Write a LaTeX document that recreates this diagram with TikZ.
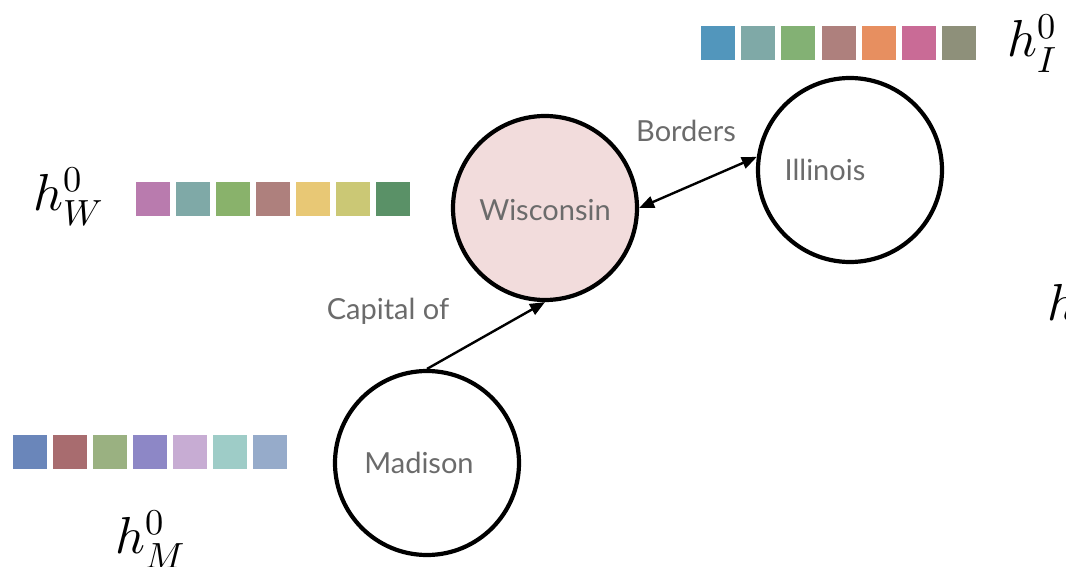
\documentclass[tikz,border=0pt]{standalone}
\usepackage{fontspec}
\usepackage{unicode-math}
\setmainfont{Lato}
\usetikzlibrary{arrows.meta}
\definecolor{labelgrey}{HTML}{6B6B6B}
\definecolor{wisfill}{HTML}{F2DCDC}
\tikzset{
  entity/.style={circle, draw=black, line width=4.2pt, minimum size=184pt, inner sep=0pt},
  caption/.style={text=labelgrey, font=\fontsize{29}{34}\selectfont, inner sep=0pt},
  relation/.style={line width=2.4pt, -{Triangle[length=15pt,width=12pt]}},
  cell/.style={minimum width=34pt, minimum height=34pt, inner sep=0pt, anchor=north west},
  vec/.style={font=\fontsize{52}{60}\selectfont, inner sep=0pt, anchor=base west},
}
\begin{document}
\begin{tikzpicture}[x=1pt, y=-1pt]
\useasboundingbox (0,0) rectangle (1066,567);
\fill[white] (0,0) rectangle (1066,567);
\begin{scope}
\clip (0,0) rectangle (1066,567);

% entity nodes
\node[entity, fill=wisfill] (w) at (545,208) {};
\node[entity] (i) at (850,170) {};
\node[entity] (m) at (427,463) {};
\node[caption] (wt) at (545,210) {Wisconsin};
\node[caption] (it) at (825,170) {Illinois};
\node[caption] (mt) at (419,463) {Madison};

% relations
\draw[relation, {Triangle[length=15pt,width=12pt]}-{Triangle[length=15pt,width=12pt]}] (w.0) -- (i.172);
\draw[relation] (m.90) -- (w.270);
\node[caption] (bl) at (686,131) {Borders};
\node[caption] (cl) at (388,311) {Capital of};

% embedding vectors
\foreach \c [count=\k from 0] in {5296BC,7FA9A7,83B174,AE807D,E78F60,C96B96,8E907A} {
  \definecolor{tmp}{HTML}{\c}
  \node[cell, fill=tmp] (iv\k) at (701+40.1*\k,26) {};
}
\foreach \c [count=\k from 0] in {B97BAE,7FA9A7,89B26B,AE807D,E8C875,CBC875,5A9167} {
  \definecolor{tmp}{HTML}{\c}
  \node[cell, fill=tmp] (wv\k) at (136+40*\k,182) {};
}
\foreach \c [count=\k from 0] in {6A86BA,A86C6F,9AB181,8D87C6,C7ACD3,9ECCC7,96ABCA} {
  \definecolor{tmp}{HTML}{\c}
  \node[cell, fill=tmp] (mv\k) at (13+40*\k,435) {};
}

% vector names
\node[vec] (hw) at (33,210) {$h_W^0$};
\node[vec] (hm) at (115,553) {$h_M^0$};
\node[vec] (hi) at (1007,57) {$h_I^0$};
\node[vec] (hx) at (1047,320) {$h$};
\end{scope}
\end{tikzpicture}
\end{document}
